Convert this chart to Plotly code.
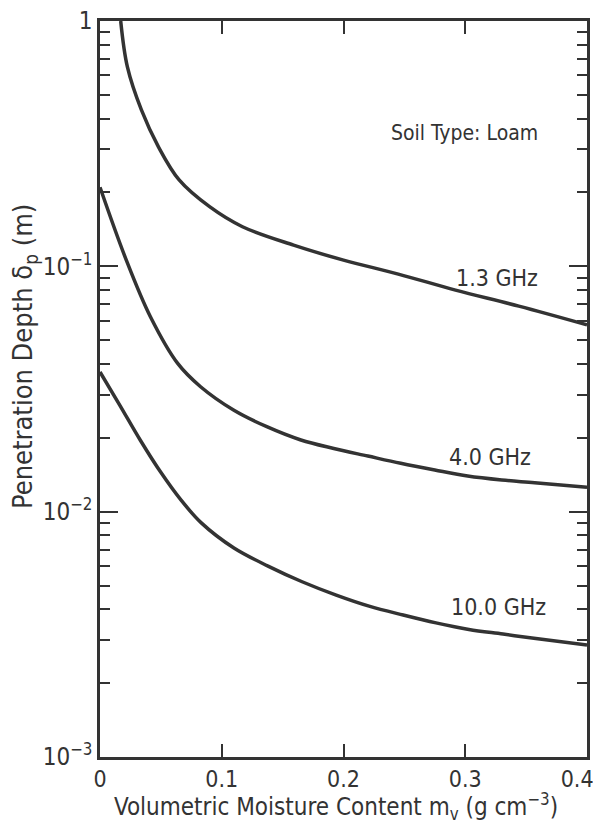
import math
import plotly.graph_objects as go

# Volumetric moisture content (g cm^-3) and penetration depth (m)
mv_13 = [0.017, 0.0225, 0.034, 0.048, 0.065, 0.090, 0.117, 0.159, 0.200, 0.245, 0.292, 0.344, 0.400]
dp_13 = [1.0, 0.65, 0.434, 0.307, 0.225, 0.175, 0.145, 0.122, 0.106, 0.093, 0.080, 0.0688, 0.0577]

mv_40 = [0.0, 0.0216, 0.0414, 0.0638, 0.0826, 0.110, 0.137, 0.165, 0.192, 0.220, 0.247, 0.275,
         0.302, 0.330, 0.357, 0.400]
dp_40 = [0.21, 0.106, 0.0623, 0.0402, 0.0323, 0.0259, 0.0222, 0.0196, 0.0181, 0.01685, 0.01574,
         0.01478, 0.01397, 0.01346, 0.01312, 0.01256]

mv_100 = [0.0, 0.0162, 0.033, 0.0498, 0.0666, 0.0832, 0.110, 0.138, 0.166, 0.194, 0.221, 0.249,
          0.276, 0.303, 0.331, 0.358, 0.400]
dp_100 = [0.0371, 0.0272, 0.0196, 0.0145, 0.01114, 0.0090, 0.00711, 0.0060, 0.00518, 0.00457,
          0.00412, 0.00379, 0.00352, 0.00331, 0.00317, 0.00304, 0.00286]

series_names = ["1.3 GHz", "4.0 GHz", "10.0 GHz"]

x_ticks = [0, 0.1, 0.2, 0.3, 0.4]
# the last label is padded so it stays inside the visible page
x_tick_text = ["0", "0.1", "0.2", "0.3", "0.4\u00a0\u00a0\u00a0"]
y_ticks = [0.001, 0.01, 0.1, 1]
y_tick_text = ["10<sup>−3</sup>", "10<sup>−2</sup>", "10<sup>−1</sup>", "1"]
y_minor = [m * 10 ** e for e in (-3, -2, -1) for m in range(2, 10)]

FONT = "DejaVu Sans Condensed, Liberation Sans Narrow, DejaVu Sans, sans-serif"
INK = "#333333"

# plot-area geometry in page pixels (page body has an 8px margin)
PL, PR, PT, PB = 100, 587, 21, 757
FIG_W, FIG_H = 593, 819
def px_to_paper(px, py):
    return (px - PL) / (PR - PL), (PB - py) / (PB - PT)

fig = go.Figure()
for mv, dp, name in zip([mv_13, mv_40, mv_100], [dp_13, dp_40, dp_100], series_names):
    fig.add_trace(go.Scatter(x=mv, y=dp, mode="lines", name=name,
                             line=dict(color=INK, width=3.5, shape="spline", smoothing=1.0),
                             showlegend=False, cliponaxis=True))

# curve labels
label_x = [0.326, 0.320, 0.327]
label_y = [10 ** -1.048, 10 ** -1.777, 10 ** -2.389]
for name, lx, ly in zip(series_names, label_x, label_y):
    fig.add_annotation(x=lx, y=math.log10(ly), text=name, showarrow=False,
                       font=dict(family=FONT, size=23, color=INK), xref="x", yref="y")

fig.add_annotation(x=0.299, y=-0.457, text="Soil Type: Loam", showarrow=False,
                   font=dict(family=FONT, size=21, color=INK), xref="x", yref="y")

# axis titles
tx, ty = px_to_paper(336, 806)
fig.add_annotation(x=tx, y=ty, xref="paper", yref="paper",
                   text="Volumetric Moisture Content m<sub>v</sub> (g cm<sup>−3</sup>)",
                   showarrow=False, xanchor="center", yanchor="middle",
                   font=dict(family=FONT, size=24, color=INK))
tx, ty = px_to_paper(24, 357)
fig.add_annotation(x=tx, y=ty, xref="paper", yref="paper",
                   text="Penetration Depth δ<sub>p</sub> (m)", textangle=-90,
                   showarrow=False, xanchor="center", yanchor="middle",
                   font=dict(family=FONT, size=27, color=INK))

fig.update_xaxes(range=[0, 0.4], tickvals=x_ticks, ticktext=x_tick_text,
                 ticks="inside", ticklen=13, tickwidth=2, tickcolor=INK,
                 showline=True, linewidth=2.5, linecolor=INK, mirror="allticks",
                 showgrid=False, zeroline=False, automargin=False,
                 ticklabeloverflow="allow",
                 tickfont=dict(family=FONT, size=23, color=INK))
fig.update_yaxes(type="log", range=[-3, 0], tickvals=y_ticks, ticktext=y_tick_text,
                 ticks="inside", ticklen=18, tickwidth=2, tickcolor=INK,
                 minor=dict(tickvals=y_minor, ticks="inside", ticklen=10, tickwidth=2, tickcolor=INK),
                 showline=True, linewidth=2.5, linecolor=INK, mirror="allticks",
                 showgrid=False, zeroline=False, automargin=False,
                 ticklabeloverflow="allow",
                 tickfont=dict(family=FONT, size=24, color=INK))

fig.update_layout(width=FIG_W, height=FIG_H, plot_bgcolor="white", paper_bgcolor="white",
                  margin=dict(l=PL - 8, r=FIG_W + 8 - PR, t=PT - 8, b=FIG_H + 8 - PB))

fig.write_html("out.html")
